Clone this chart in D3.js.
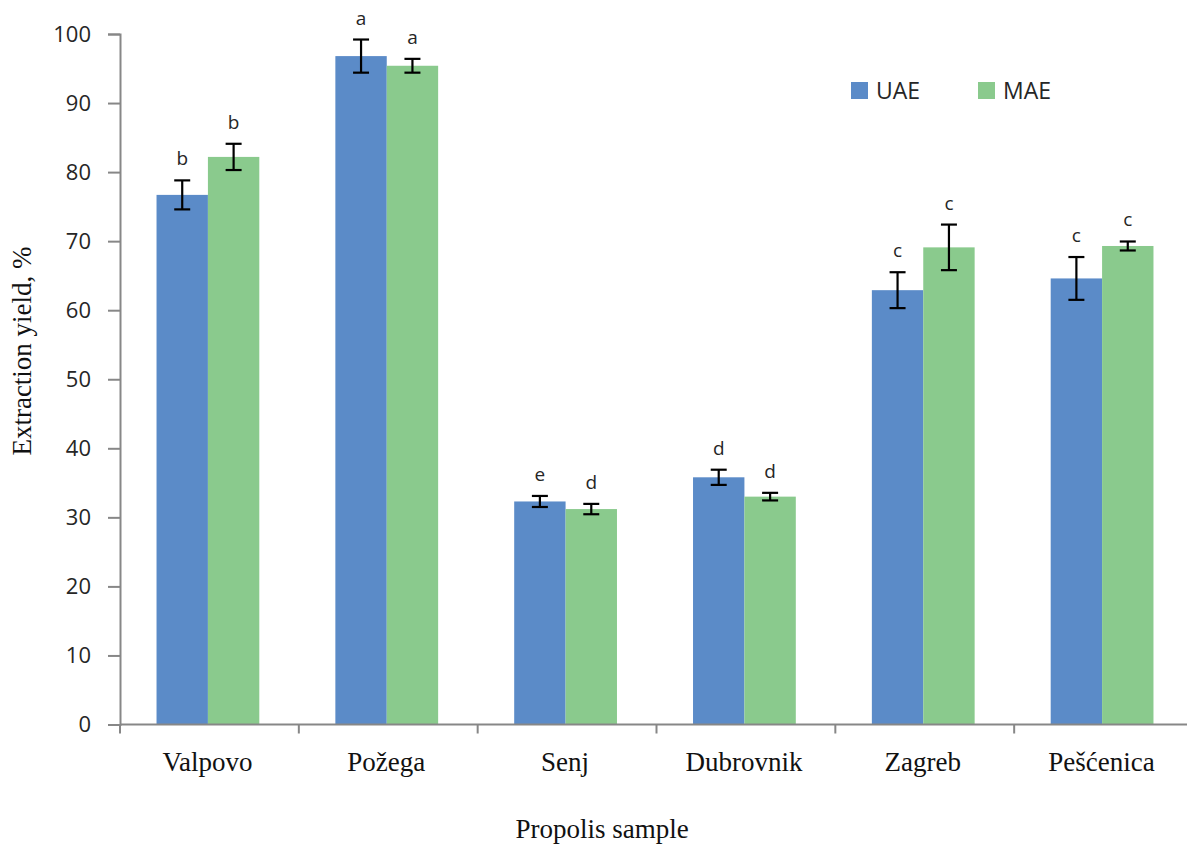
<!DOCTYPE html>
<html>
<head>
<meta charset="utf-8">
<script src="https://cdn.jsdelivr.net/npm/d3@7"></script>
<style>
  body { margin: 0; background: #fff; }
  svg { display: block; }
</style>
</head>
<body>
<div id="chart"></div>
<script>
// values
const samples = ["Valpovo", "Požega", "Senj", "Dubrovnik", "Zagreb", "Pešćenica"]
const series = ["UAE", "MAE"]
const uae = [76.7, 96.8, 32.3, 35.8, 62.9, 64.6]
const mae = [82.2, 95.4, 31.2, 33.0, 69.1, 69.3]
const uaeErr = [2.1, 2.4, 0.8, 1.1, 2.6, 3.1]
const maeErr = [1.9, 1.0, 0.75, 0.55, 3.3, 0.65]
const uaeLetters = ["b", "a", "e", "d", "c", "c"]
const maeLetters = ["b", "a", "d", "d", "c", "c"]
const yTicks = [0, 10, 20, 30, 40, 50, 60, 70, 80, 90, 100]
const colors = {UAE: "#5b8bc8", MAE: "#8aca8d"}

let width = 1187
let height = 844
let plotLeft = 120, plotRight = 1193, plotTop = 34, plotBottom = 724.5

let rows = []
samples.forEach((s, i) => {
  rows.push({sample: s, key: "UAE", value: uae[i], err: uaeErr[i], letter: uaeLetters[i]})
  rows.push({sample: s, key: "MAE", value: mae[i], err: maeErr[i], letter: maeLetters[i]})
})

let svg = d3.select("#chart").append("svg")
  .attr("width", width)
  .attr("height", height)

let x0 = d3.scaleBand().domain(samples).range([plotLeft, plotRight])
let x1 = d3.scaleBand().domain(series).range([0, x0.bandwidth()])
  .paddingInner(0).paddingOuter(0.74)
let y = d3.scaleLinear().domain([0, 100]).range([plotBottom, plotTop])

let barX = d => x0(d.sample) + x1(d.key) - 1.5

// bars
svg.append("g").selectAll("rect")
  .data(rows)
  .join("rect")
  .attr("x", barX)
  .attr("y", d => y(d.value))
  .attr("width", x1.bandwidth())
  .attr("height", d => y(0) - y(d.value))
  .attr("fill", d => colors[d.key])

// y axis
let yAxis = svg.append("g")
  .attr("transform", `translate(${plotLeft},0)`)
  .call(d3.axisLeft(y).tickValues(yTicks).tickSize(12).tickPadding(17))
yAxis.select(".domain").attr("stroke", "#878787").attr("stroke-width", 2)
yAxis.selectAll(".tick line").attr("stroke", "#878787").attr("stroke-width", 2)
yAxis.selectAll(".tick text")
  .attr("fill", "#262626")
  .style("font-family", "'Open Sans', sans-serif")
  .style("font-size", "22px")

// x axis: line plus ticks at the band boundaries
let xb = d3.scaleLinear().domain([0, samples.length]).range([plotLeft, plotRight])
svg.append("line")
  .attr("x1", plotLeft).attr("x2", plotRight)
  .attr("y1", y(0)).attr("y2", y(0))
  .attr("stroke", "#878787").attr("stroke-width", 2)
svg.append("g").selectAll("line")
  .data(d3.range(samples.length + 1))
  .join("line")
  .attr("x1", d => xb(d)).attr("x2", d => xb(d))
  .attr("y1", y(0)).attr("y2", y(0) + 9)
  .attr("stroke", "#878787").attr("stroke-width", 2)

svg.append("g").selectAll("text")
  .data(samples)
  .join("text")
  .attr("x", d => x0(d) + x0.bandwidth() / 2 - 2)
  .attr("y", 771)
  .attr("text-anchor", "middle")
  .style("font-family", "'Liberation Serif', 'Times New Roman', serif")
  .style("font-size", "27px")
  .attr("fill", "#111")
  .text(d => d)

// error bars
let eb = svg.append("g").attr("stroke", "#000").attr("stroke-width", 2.2)
rows.forEach(d => {
  let cx = barX(d) + x1.bandwidth() / 2
  eb.append("line").attr("x1", cx).attr("x2", cx)
    .attr("y1", y(d.value + d.err)).attr("y2", y(d.value - d.err))
  eb.append("line").attr("x1", cx - 8).attr("x2", cx + 8)
    .attr("y1", y(d.value + d.err)).attr("y2", y(d.value + d.err))
  eb.append("line").attr("x1", cx - 8).attr("x2", cx + 8)
    .attr("y1", y(d.value - d.err)).attr("y2", y(d.value - d.err))
})

// significance letters
svg.append("g").selectAll("text")
  .data(rows)
  .join("text")
  .attr("x", d => barX(d) + x1.bandwidth() / 2)
  .attr("y", d => y(d.value + d.err) - 15)
  .attr("text-anchor", "middle")
  .style("font-family", "'Open Sans', sans-serif")
  .style("font-size", "19px")
  .attr("fill", "#262626")
  .text(d => d.letter)

// legend
let lx = d3.scaleOrdinal().domain(series).range([851, 978])
let legend = svg.append("g").selectAll("g")
  .data(series)
  .join("g")
  .attr("transform", d => `translate(${lx(d)},82)`)
legend.append("rect")
  .attr("width", 17).attr("height", 17)
  .attr("fill", d => colors[d])
legend.append("text")
  .attr("x", 25).attr("y", 17)
  .style("font-family", "'Open Sans', sans-serif")
  .style("font-size", "23px")
  .attr("fill", "#262626")
  .text(d => d)

// axis titles
svg.append("text")
  .attr("transform", "translate(31,351) rotate(-90)")
  .attr("text-anchor", "middle")
  .style("font-family", "'Liberation Serif', 'Times New Roman', serif")
  .style("font-size", "27px")
  .attr("fill", "#111")
  .text("Extraction yield, %")

svg.append("text")
  .attr("x", 602).attr("y", 838)
  .attr("text-anchor", "middle")
  .style("font-family", "'Liberation Serif', 'Times New Roman', serif")
  .style("font-size", "27px")
  .attr("fill", "#111")
  .text("Propolis sample")
</script>
</body>
</html>
